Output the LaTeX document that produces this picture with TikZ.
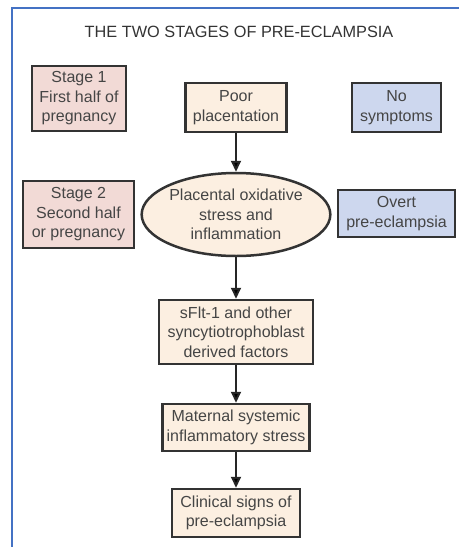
\documentclass[tikz,border=0pt]{standalone}
\usepackage{fontspec}
\setmainfont{Liberation Sans}
\usetikzlibrary{positioning,shapes.geometric,arrows.meta}

\definecolor{framebl}{HTML}{4472C4}
\definecolor{stagepink}{HTML}{F2DAD6}
\definecolor{flowpeach}{HTML}{FCEFE1}
\definecolor{symblue}{HTML}{CDD7EE}
\definecolor{txtgray}{HTML}{454545}

\begin{document}
\begin{tikzpicture}[x=1pt,y=-1pt,
  box/.style={draw=black!80,line width=2.5pt,align=center,text=txtgray,inner sep=0pt,
    font=\fontsize{16}{19.5}\selectfont},
  stagebox/.style={box,fill=stagepink},
  flowbox/.style={box,fill=flowpeach},
  symbox/.style={box,fill=symblue},
  flowarrow/.style={draw=black!85,line width=2pt,-{Triangle[width=10pt,length=11pt]}}]
  \useasboundingbox (0,0) rectangle (459,547);
  \draw[framebl,line width=2pt] (12,547) -- (12,8) -- (459,8);
  \node[text=black!80,font=\fontsize{16.3}{18}\selectfont] (title) at (239,32) {THE TWO STAGES OF PRE-ECLAMPSIA};
  \node[stagebox,minimum width=94pt,minimum height=65pt] (s1) at (79,98.5) {Stage 1\\First half of\\pregnancy};
  \node[flowbox,minimum width=101pt,minimum height=49pt] (poor) at (236,107.5) {Poor\\placentation};
  \node[symbox,minimum width=89pt,minimum height=49pt] (nosym) at (396.5,107.5) {No\\symptoms};
  \node[stagebox,minimum width=111pt,minimum height=67pt] (s2) at (78.5,214.5) {Stage 2\\Second half\\or pregnancy};
  \node[flowbox,shape=ellipse,inner sep=0pt,minimum width=173pt,minimum height=83pt] (oxid) at (236,214.5) {Placental oxidative\\stress and\\inflammation};
  \node[symbox,minimum width=117pt,minimum height=47pt] (overt) at (396.5,213.5) {Overt\\pre-eclampsia};
  \node[flowbox,minimum width=154pt,minimum height=64pt] (sflt) at (236,332) {sFlt-1 and other\\syncytiotrophoblast\\derived factors};
  \node[flowbox,minimum width=147pt,minimum height=47pt] (matern) at (236,427.5) {Maternal systemic\\inflammatory stress};
  \node[flowbox,minimum width=128pt,minimum height=48pt] (clin) at (236,513) {Clinical signs of\\pre-eclampsia};
  \path[flowarrow] (poor) edge (oxid);
  \path[flowarrow] (oxid) edge (sflt);
  \path[flowarrow] (sflt) edge (matern);
  \path[flowarrow] (matern) edge (clin);
\end{tikzpicture}
\end{document}
